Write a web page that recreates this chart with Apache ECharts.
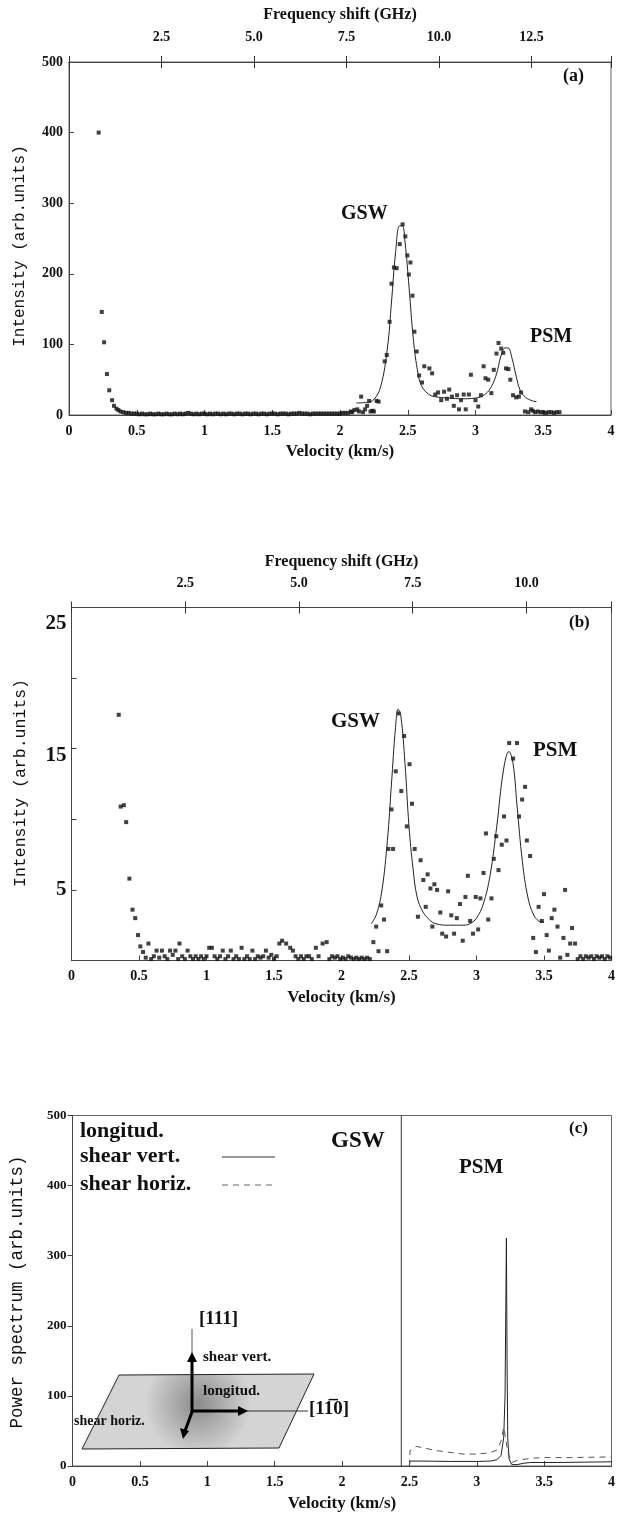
<!DOCTYPE html>
<html><head><meta charset="utf-8">
<script src="https://cdn.jsdelivr.net/npm/echarts@6/dist/echarts.min.js"></script>
<style>html,body{margin:0;padding:0;background:#fff}#c{width:618px;height:1513px}</style>
</head><body><div id="c"></div>
<script>
// ---------- Panel (a) ----------
const aPoints = [
 [0.219,400],[0.242,146],[0.259,103],[0.28,58],[0.297,35],[0.318,21],[0.332,13],[0.35,9],[0.364,7],[0.38,5],[0.40,4],[0.42,3],
 [0.44,3],[0.46,2],[0.48,2],[0.50,2],[0.52,1],[0.54,2],[0.56,1],[0.58,1],[0.60,2],[0.62,1],[0.64,1],[0.66,2],[0.68,1],[0.70,1],
 [0.72,2],[0.74,1],[0.76,1],[0.78,2],[0.80,1],[0.82,2],[0.84,1],[0.86,2],[0.88,3],[0.90,2],[0.92,1],[0.94,2],[0.96,1],[0.98,2],
 [1.00,2],[1.02,1],[1.04,2],[1.06,1],[1.08,2],[1.10,2],[1.12,1],[1.14,2],[1.16,1],[1.18,2],[1.20,2],[1.22,1],[1.24,2],[1.26,2],
 [1.28,1],[1.30,2],[1.32,2],[1.34,1],[1.36,2],[1.38,2],[1.40,1],[1.42,2],[1.44,2],[1.46,1],[1.48,2],[1.50,2],[1.52,2],[1.54,1],
 [1.56,2],[1.58,2],[1.60,2],[1.62,1],[1.64,2],[1.66,2],[1.68,2],[1.70,3],[1.72,2],[1.74,2],[1.76,2],[1.78,1],[1.80,2],[1.82,2],
 [1.84,2],[1.86,2],[1.88,2],[1.90,2],[1.92,2],[1.94,2],[1.96,2],[1.98,2],[2.00,2],[2.02,3],[2.04,3],[2.06,3],[2.08,5],[2.09,4],
 [2.106,7],[2.127,8],[2.14,5],[2.156,26],[2.17,4],[2.185,8],[2.2,13],[2.215,20],[2.225,5],[2.24,6],[2.25,5],[2.27,20],[2.285,19],
 [2.33,76],[2.345,85],[2.366,132],[2.38,186],[2.398,209],[2.418,208],[2.441,242],[2.462,270],[2.482,253],[2.497,226],[2.508,199],
 [2.52,216],[2.535,169],[2.549,118],[2.566,90],[2.584,56],[2.605,46],[2.622,69],[2.66,66],[2.68,59],[2.703,29],[2.724,32],
 [2.747,21],[2.768,33],[2.789,23],[2.806,36],[2.826,26],[2.84,13],[2.864,28],[2.878,8],[2.893,21],[2.913,29],[2.928,8],[2.951,29],
 [2.966,57],[3.0,21],[3.02,12],[3.04,28],[3.06,69],[3.074,52],[3.094,50],[3.117,31],[3.135,64],[3.155,87],[3.17,102],[3.19,94],
 [3.205,88],[3.225,66],[3.243,65],[3.257,50],[3.277,28],[3.3,25],[3.32,26],[3.336,32],[3.365,5],[3.39,4],[3.41,8],[3.423,6],
 [3.44,4],[3.46,5],[3.48,4],[3.50,4],[3.52,3],[3.54,4],[3.56,4],[3.58,3],[3.60,4],[3.62,4]
];
const aFit = [
 [2.12,17],[2.2,18],[2.25,22],[2.3,40],[2.35,95],[2.38,160],[2.41,230],[2.44,268],[2.46,268],[2.48,245],[2.51,180],[2.54,110],
 [2.57,65],[2.6,42],[2.65,30],[2.7,26],[2.8,24],[2.9,23],[3.0,24],[3.05,27],[3.1,35],[3.15,55],[3.19,85],[3.22,95],[3.24,95],
 [3.27,80],[3.3,55],[3.33,35],[3.37,25],[3.42,20],[3.45,19]
];
// ---------- Panel (b) ----------
const bPoints = [
 [0.33,25.1],[0.35,17.4],[0.364,10.9],[0.388,11.0],[0.405,9.8],[0.429,5.8],[0.452,3.6],[0.472,3.0],[0.493,1.8],[0.51,1.0],[0.53,0.6],
 [0.55,0.2],[0.57,1.2],[0.59,0.1],[0.61,0.3],[0.63,0.7],[0.65,0.2],[0.67,0.7],[0.69,0.3],[0.71,0.1],[0.73,0.7],[0.75,0.4],
 [0.77,0.7],[0.79,0.1],[0.80,1.2],[0.82,0.3],[0.84,0.1],[0.86,0.7],[0.88,0.3],[0.90,0.1],[0.92,0.3],[0.94,0.1],[0.96,0.3],[0.98,0.1],
 [1.00,0.3],[1.02,0.9],[1.04,0.9],[1.06,0.3],[1.08,0.1],[1.10,0.3],[1.12,0.7],[1.14,0.1],[1.16,0.3],[1.18,0.7],[1.20,0.1],[1.22,0.3],
 [1.24,0.1],[1.26,0.9],[1.28,0.1],[1.30,0.3],[1.32,0.1],[1.34,0.7],[1.36,0.1],[1.38,0.3],[1.40,0.2],[1.42,0.3],[1.44,0.7],[1.46,0.2],
 [1.48,0.4],[1.50,0.1],[1.52,0.3],[1.54,1.2],[1.56,1.4],[1.59,1.2],[1.62,0.9],[1.64,0.7],[1.66,0.3],[1.68,0.1],[1.70,0.3],[1.72,0.1],
 [1.74,0.3],[1.76,0.3],[1.78,0.1],[1.81,0.9],[1.83,0.3],[1.86,1.2],[1.89,1.3],[1.91,0.1],[1.93,0.3],[1.95,0.2],[1.97,0.3],[1.99,0.1],
 [2.01,0.2],[2.03,0.1],[2.05,0.3],[2.07,0.2],[2.09,0.1],[2.11,0.2],[2.13,0.1],[2.15,0.2],[2.17,0.1],[2.19,0.2],[2.21,0.1],
 [2.236,1.3],[2.257,2.4],[2.274,0.66],[2.294,3.9],[2.315,2.9],[2.338,0.66],[2.347,7.9],[2.37,10.7],[2.382,7.9],[2.402,13.4],
 [2.423,17.5],[2.443,12.0],[2.464,15.9],[2.484,9.5],[2.504,13.9],[2.522,11.1],[2.542,7.9],[2.566,3.1],[2.586,7.1],[2.606,5.7],
 [2.624,3.8],[2.638,6.1],[2.659,5.1],[2.673,2.4],[2.688,5.4],[2.708,5.0],[2.732,3.4],[2.746,1.9],[2.775,1.7],[2.79,4.9],
 [2.813,3.2],[2.834,1.9],[2.854,3.0],[2.878,4.0],[2.898,1.4],[2.918,4.5],[2.936,6.0],[2.953,2.8],[2.974,1.9],[2.994,4.5],
 [3.012,2.2],[3.029,4.4],[3.052,6.2],[3.07,9.0],[3.087,2.9],[3.111,4.4],[3.128,7.2],[3.146,8.8],[3.163,6.4],[3.187,8.2],
 [3.204,10.2],[3.222,8.5],[3.242,15.4],[3.271,14.3],[3.3,15.4],[3.315,10.2],[3.338,11.4],[3.36,12.3],[3.373,8.5],[3.397,7.4],
 [3.42,1.6],[3.44,0.6],[3.46,3.8],[3.484,2.8],[3.5,4.7],[3.52,1.8],[3.536,0.7],[3.557,3.0],[3.577,3.6],[3.6,2.4],[3.62,0.2],
 [3.644,1.6],[3.656,5.0],[3.673,0.4],[3.694,1.2],[3.708,2.3],[3.73,1.2],[3.75,0.1],[3.77,0.3],[3.79,0.1],[3.81,0.3],[3.83,0.2],
 [3.85,0.3],[3.87,0.1],[3.89,0.3],[3.91,0.2],[3.93,0.3],[3.95,0.1],[3.97,0.3],[3.99,0.2]
];
const bFit = [
 [2.22,2.6],[2.26,3.3],[2.3,5],[2.34,8.5],[2.37,12.5],[2.40,16.5],[2.42,17.8],[2.44,17.3],[2.47,14],[2.50,9.5],[2.53,6.5],
 [2.56,4.5],[2.6,3.5],[2.65,2.9],[2.7,2.6],[2.8,2.5],[2.9,2.5],[2.95,2.6],[3.0,3.0],[3.05,4.0],[3.1,6],[3.15,9.5],[3.2,13.5],
 [3.24,14.8],[3.27,14],[3.3,11],[3.34,7],[3.38,4.5],[3.42,3.3],[3.46,2.8],[3.5,2.7]
];
// ---------- Panel (c) ----------
const cGSW = [[2.44,0],[2.44,500]];
const cShearVert = [
 [2.5,0],[2.505,7],[2.6,7],[2.8,6.5],[3.0,6.5],[3.1,7],[3.15,9],[3.18,15],[3.2,40],[3.21,100],[3.22,325],[3.225,150],[3.23,40],
 [3.24,10],[3.26,2],[3.3,2],[3.35,4],[3.4,5],[3.6,5],[3.8,5.5],[4.0,6]
];
const cShearHoriz = [
 [2.5,0],[2.505,22],[2.55,28],[2.7,22],[2.9,17],[3.0,17],[3.1,19],[3.15,23],[3.18,35],[3.2,55],[3.21,45],[3.23,20],[3.26,5],
 [3.3,8],[3.4,11],[3.5,12],[3.7,12],[4.0,13]
];
const freqMaxA = 14.65; // GHz at the right edge of panel (a)
const freqMaxB = 11.87; // GHz at the right edge of panel (b)

const SERIF = '"Liberation Serif","Times New Roman",serif';
const MONO = '"Liberation Mono","DejaVu Sans Mono",monospace';
const ink = '#111';
const bold = {fontFamily: SERIF, fontWeight: 'bold', color: ink};

function botAxis(grid, gap) {
  return {type: 'value', gridIndex: grid, min: 0, max: 4, interval: 0.5, position: 'bottom',
    axisLine: {lineStyle: {color: '#444', width: 1}}, axisTick: {inside: true, length: 5, lineStyle: {color: '#444'}},
    splitLine: {show: false}, axisLabel: Object.assign({fontSize: 14, margin: 9}, bold),
    name: 'Velocity (km/s)', nameLocation: 'middle', nameGap: gap, nameTextStyle: Object.assign({fontSize: 17}, bold)};
}
function topAxis(grid, max, inside, withLabel, margin, gap) {
  return {type: 'value', gridIndex: grid, min: 0, max: max, interval: 2.5, position: 'top',
    axisLine: {lineStyle: {color: '#444'}}, axisTick: {inside: inside, length: 6, lineStyle: {color: '#333'}},
    splitLine: {show: false},
    axisLabel: withLabel ? Object.assign({fontSize: 14, margin: margin,
      formatter: v => (v > 0 && Math.abs(v / 2.5 - Math.round(v / 2.5)) < 1e-6) ? v.toFixed(1) : ''}, bold) : {show: false},
    name: withLabel ? 'Frequency shift (GHz)' : '', nameLocation: 'middle', nameGap: gap,
    nameTextStyle: Object.assign({fontSize: 16}, bold)};
}
function vText(text, x, y, size) {
  return {type: 'text', x: x, y: y, rotation: Math.PI / 2,
    style: {text: text, fill: ink, font: size + 'px ' + MONO, textAlign: 'center', textVerticalAlign: 'middle'}};
}

const option = {
  animation: false,
  backgroundColor: '#fff',
  grid: [
    {left: 69, top: 62, width: 542, height: 353, show: true, borderColor: '#666', borderWidth: 1},
    {left: 71.5, top: 607.5, width: 540.5, height: 353, show: true, borderColor: '#666', borderWidth: 1},
    {left: 72.5, top: 1115.5, width: 541.5, height: 352, show: true, borderColor: '#666', borderWidth: 1}
  ],
  xAxis: [
    botAxis(0, 28),
    topAxis(0, freqMaxA, false, true, 18, 39),
    topAxis(0, freqMaxA, true, false),
    botAxis(1, 29),
    topAxis(1, freqMaxB, false, true, 17, 38),
    topAxis(1, freqMaxB, true, false),
    botAxis(2, 29)
  ],
  yAxis: [
    {type: 'value', gridIndex: 0, min: 0, max: 500, interval: 100,
      axisLine: {lineStyle: {color: '#444'}}, axisTick: {inside: true, length: 5, lineStyle: {color: '#444'}},
      splitLine: {show: false}, axisLabel: Object.assign({fontSize: 14, margin: 6}, bold)},
    {type: 'value', gridIndex: 1, min: 0, max: 25, interval: 5,
      axisLine: {lineStyle: {color: '#444'}}, axisTick: {inside: true, length: 5, lineStyle: {color: '#444'}},
      splitLine: {show: false},
      axisLabel: {margin: 5, formatter: v => v === 25 ? '{d|25}' : v === 15 ? '{m|15}' : v === 5 ? '{n|5}' : '',
        rich: {
          d: Object.assign({fontSize: 21, padding: [32, 0, 0, 0]}, bold),
          m: Object.assign({fontSize: 21, padding: [13, 0, 0, 0]}, bold),
          n: Object.assign({fontSize: 21}, bold)
        }}},
    {type: 'value', gridIndex: 2, min: 0, max: 500, interval: 100,
      axisLine: {lineStyle: {color: '#444'}}, axisTick: {inside: false, length: 5, lineStyle: {color: '#444'}},
      splitLine: {show: false}, axisLabel: Object.assign({fontSize: 13, margin: 6}, bold)}
  ],
  series: [
    {type: 'scatter', xAxisIndex: 0, yAxisIndex: 0, data: aPoints, symbol: 'rect', symbolSize: 4,
      itemStyle: {color: ink}, silent: true},
    {type: 'line', xAxisIndex: 0, yAxisIndex: 0, data: aFit, smooth: 0.4, showSymbol: false,
      lineStyle: {color: '#222', width: 1}, silent: true},
    {type: 'scatter', xAxisIndex: 3, yAxisIndex: 1, data: bPoints, symbol: 'rect', symbolSize: 4,
      itemStyle: {color: ink}, silent: true},
    {type: 'line', xAxisIndex: 3, yAxisIndex: 1, data: bFit, smooth: 0.4, showSymbol: false,
      lineStyle: {color: '#222', width: 1}, silent: true},
    {type: 'line', xAxisIndex: 6, yAxisIndex: 2, data: cGSW, showSymbol: false,
      lineStyle: {color: '#333', width: 1}, silent: true},
    {type: 'line', xAxisIndex: 6, yAxisIndex: 2, data: cShearVert, showSymbol: false,
      lineStyle: {color: '#222', width: 1}, silent: true},
    {type: 'line', xAxisIndex: 6, yAxisIndex: 2, data: cShearHoriz, showSymbol: false,
      lineStyle: {color: '#555', width: 1, type: [6, 5]}, silent: true}
  ],
  graphic: [
    vText('Intensity (arb.units)', 20, 246, 16),
    vText('Intensity (arb.units)', 21, 783, 16.5),
    vText('Power spectrum (arb.units)', 17, 1292, 17.5),
    // panel annotations
    {type: 'text', left: 563, top: 67, style: {text: '(a)', fill: ink, font: 'bold 18px ' + SERIF}},
    {type: 'text', left: 341, top: 204, style: {text: 'GSW', fill: ink, font: 'bold 20px ' + SERIF}},
    {type: 'text', left: 530, top: 327, style: {text: 'PSM', fill: ink, font: 'bold 20px ' + SERIF}},
    {type: 'text', left: 569, top: 614, style: {text: '(b)', fill: ink, font: 'bold 17px ' + SERIF}},
    {type: 'text', left: 331, top: 711, style: {text: 'GSW', fill: ink, font: 'bold 21px ' + SERIF}},
    {type: 'text', left: 533, top: 740, style: {text: 'PSM', fill: ink, font: 'bold 21px ' + SERIF}},
    {type: 'text', left: 569, top: 1120, style: {text: '(c)', fill: ink, font: 'bold 17px ' + SERIF}},
    {type: 'text', left: 331, top: 1130, style: {text: 'GSW', fill: ink, font: 'bold 23px ' + SERIF}},
    {type: 'text', left: 459, top: 1157, style: {text: 'PSM', fill: ink, font: 'bold 21px ' + SERIF}},
    // legend of panel (c)
    {type: 'text', left: 80, top: 1120, style: {text: 'longitud.', fill: ink, font: 'bold 22px ' + SERIF}},
    {type: 'text', left: 80, top: 1145, style: {text: 'shear vert.', fill: ink, font: 'bold 22px ' + SERIF}},
    {type: 'text', left: 80, top: 1173, style: {text: 'shear horiz.', fill: ink, font: 'bold 22px ' + SERIF}},
    {type: 'line', shape: {x1: 222, y1: 1157, x2: 275, y2: 1157}, style: {stroke: '#333', lineWidth: 1}},
    {type: 'line', shape: {x1: 222, y1: 1185, x2: 275, y2: 1185}, style: {stroke: '#666', lineWidth: 1, lineDash: [6, 5]}},
    // inset diagram
    {type: 'polygon', shape: {points: [[82,1449],[279,1448],[314,1374],[119,1375]]},
      style: {fill: {type: 'radial', x: 0.5, y: 0.4, r: 0.7, colorStops: [{offset: 0, color: '#8a8a8a'}, {offset: 1, color: '#d4d4d4'}]},
        stroke: '#222', lineWidth: 1}},
    {type: 'line', shape: {x1: 192, y1: 1356, x2: 192, y2: 1329}, style: {stroke: '#555', lineWidth: 1}},
    {type: 'line', shape: {x1: 246, y1: 1411, x2: 308, y2: 1411}, style: {stroke: '#333', lineWidth: 1}},
    {type: 'line', shape: {x1: 192, y1: 1412, x2: 192, y2: 1360}, style: {stroke: '#000', lineWidth: 3}},
    {type: 'polygon', shape: {points: [[187,1362],[197,1362],[192,1352]]}, style: {fill: '#000'}},
    {type: 'line', shape: {x1: 192, y1: 1411, x2: 240, y2: 1411}, style: {stroke: '#000', lineWidth: 3}},
    {type: 'polygon', shape: {points: [[238,1406],[238,1416],[248,1411]]}, style: {fill: '#000'}},
    {type: 'line', shape: {x1: 192, y1: 1412, x2: 185, y2: 1431}, style: {stroke: '#000', lineWidth: 3}},
    {type: 'polygon', shape: {points: [[180,1428],[189,1431],[183,1439]]}, style: {fill: '#000'}},
    {type: 'text', left: 199, top: 1310, style: {text: '[111]', fill: ink, font: 'bold 19px ' + SERIF}},
    {type: 'text', left: 203, top: 1350, style: {text: 'shear vert.', fill: ink, font: 'bold 15px ' + SERIF}},
    {type: 'text', left: 203, top: 1384, style: {text: 'longitud.', fill: ink, font: 'bold 15px ' + SERIF}},
    {type: 'text', left: 74, top: 1414, style: {text: 'shear horiz.', fill: ink, font: 'bold 14px ' + SERIF}},
    {type: 'text', left: 309, top: 1400, style: {text: '[11\u03050]', fill: ink, font: 'bold 19px ' + SERIF}}
  ]
};
const chart = echarts.init(document.getElementById('c'), null, {renderer: 'canvas', width: 618, height: 1513});
chart.setOption(option);
</script></body></html>
